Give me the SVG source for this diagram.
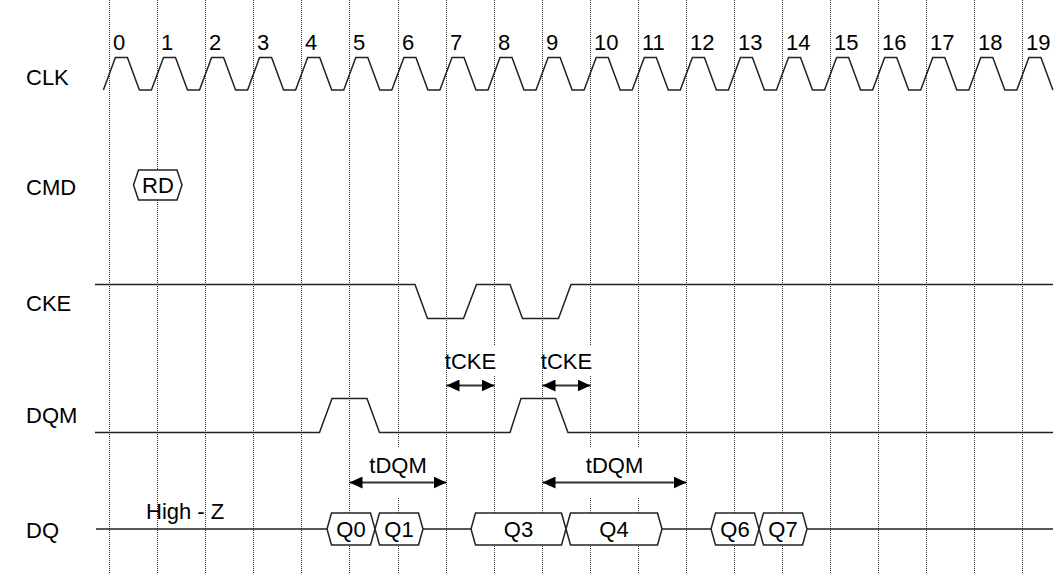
<svg xmlns="http://www.w3.org/2000/svg" width="1056" height="574" viewBox="0 0 1056 574">
<style>
text{font-family:"Liberation Sans",Arial,sans-serif;font-size:22px;fill:#000}
.grid line{stroke:#333;stroke-width:1;stroke-dasharray:1 1}
.wave{fill:none;stroke:#222;stroke-width:1.5;stroke-linejoin:miter}
.hex{fill:#fff;stroke:#222;stroke-width:1.5}
.mid{text-anchor:middle}
.arr{stroke:#333;stroke-width:2;marker-start:url(#ah);marker-end:url(#ah)}
.mask{fill:#fff}
</style>
<defs>
<marker id="ah" markerUnits="userSpaceOnUse" markerWidth="14" markerHeight="12" refX="13" refY="6" orient="auto-start-reverse">
<path d="M0,0 L13,6 L0,12 Z" fill="#000"/>
</marker>
</defs>
<rect width="1056" height="574" fill="#fff"/>
<g class="grid" id="grid">
<line x1="109.5" y1="0" x2="109.5" y2="574"/>
<line x1="157.5" y1="0" x2="157.5" y2="574"/>
<line x1="205.5" y1="0" x2="205.5" y2="574"/>
<line x1="253.5" y1="0" x2="253.5" y2="574"/>
<line x1="301.5" y1="0" x2="301.5" y2="574"/>
<line x1="349.5" y1="0" x2="349.5" y2="574"/>
<line x1="398.5" y1="0" x2="398.5" y2="574"/>
<line x1="446.5" y1="0" x2="446.5" y2="574"/>
<line x1="494.5" y1="0" x2="494.5" y2="574"/>
<line x1="542.5" y1="0" x2="542.5" y2="574"/>
<line x1="590.5" y1="0" x2="590.5" y2="574"/>
<line x1="638.5" y1="0" x2="638.5" y2="574"/>
<line x1="686.5" y1="0" x2="686.5" y2="574"/>
<line x1="734.5" y1="0" x2="734.5" y2="574"/>
<line x1="782.5" y1="0" x2="782.5" y2="574"/>
<line x1="830.5" y1="0" x2="830.5" y2="574"/>
<line x1="878.5" y1="0" x2="878.5" y2="574"/>
<line x1="926.5" y1="0" x2="926.5" y2="574"/>
<line x1="974.5" y1="0" x2="974.5" y2="574"/>
<line x1="1022.5" y1="0" x2="1022.5" y2="574"/>
</g>
<g id="clk">
<text x="26" y="85">CLK</text>
<g id="cycle-numbers">
<text x="113" y="50">0</text>
<text x="161" y="50">1</text>
<text x="209" y="50">2</text>
<text x="257" y="50">3</text>
<text x="305" y="50">4</text>
<text x="353" y="50">5</text>
<text x="402" y="50">6</text>
<text x="450" y="50">7</text>
<text x="498" y="50">8</text>
<text x="546" y="50">9</text>
<text x="594" y="50">10</text>
<text x="642" y="50">11</text>
<text x="690" y="50">12</text>
<text x="738" y="50">13</text>
<text x="786" y="50">14</text>
<text x="834" y="50">15</text>
<text x="882" y="50">16</text>
<text x="930" y="50">17</text>
<text x="978" y="50">18</text>
<text x="1026" y="50">19</text>
</g>
<path class="wave" d="M103.4,90 L115.4,57.5 H127.4 L139.4,90 H151.4 L163.5,57.5 H175.5 L187.5,90 H199.5 L211.6,57.5 H223.6 L235.6,90 H247.6 L259.6,57.5 H271.6 L283.6,90 H295.6 L307.7,57.5 H319.7 L331.7,90 H343.7 L355.8,57.5 H367.8 L379.8,90 H391.8 L403.9,57.5 H415.9 L427.9,90 H439.9 L452,57.5 H464 L476,90 H488 L500,57.5 H512 L524,90 H536 L548.1,57.5 H560.1 L572.1,90 H584.1 L596.2,57.5 H608.2 L620.2,90 H632.2 L644.3,57.5 H656.3 L668.3,90 H680.3 L692.4,57.5 H704.4 L716.4,90 H728.4 L740.4,57.5 H752.4 L764.4,90 H776.4 L788.5,57.5 H800.5 L812.5,90 H824.5 L836.6,57.5 H848.6 L860.6,90 H872.6 L884.7,57.5 H896.7 L908.7,90 H920.7 L932.8,57.5 H944.8 L956.8,90 H968.8 L980.8,57.5 H992.8 L1004.8,90 H1016.8 L1028.9,57.5 H1040.9 L1052.9,90"/>
</g>
<g id="cmd">
<text x="26" y="195">CMD</text>
<g id="cmd-rd">
<path class="hex" d="M133.5,185 L138.5,170 H177 L182,185 L177,200 H138.5 Z"/>
<text class="mid" x="158" y="193">RD</text>
</g>
</g>
<g id="cke">
<text x="26" y="311">CKE</text>
<path class="wave" d="M95,284.5 H415 L427.5,318.5 H463.5 L476.5,284.5 H510 L522.5,318.5 H558.5 L571,284.5 H1053"/>
</g>
<g id="dqm">
<text x="26" y="423">DQM</text>
<path class="wave" d="M95,432.5 H319.5 L332,398.5 H367 L379.5,432.5 H510 L521,398.5 H555.5 L568,432.5 H1053"/>
</g>
<g id="dq">
<text x="26" y="538">DQ</text>
<text x="146" y="519">High - Z</text>
<path class="wave" d="M96,529 H327 M423,529 H471 M662,529 H711 M807,529 H1053"/>
<g id="dq-q0"><path class="hex" d="M327,529 L331.5,513 H370.5 L375,529 L370.5,545 H331.5 Z"/><text class="mid" x="351" y="537">Q0</text></g>
<g id="dq-q1"><path class="hex" d="M375,529 L379.5,513 H418.5 L423,529 L418.5,545 H379.5 Z"/><text class="mid" x="399" y="537">Q1</text></g>
<g id="dq-q3"><path class="hex" d="M471,529 L475.5,513 H561.5 L566,529 L561.5,545 H475.5 Z"/><text class="mid" x="518.5" y="537">Q3</text></g>
<g id="dq-q4"><path class="hex" d="M566,529 L570.5,513 H657.5 L662,529 L657.5,545 H570.5 Z"/><text class="mid" x="614" y="537">Q4</text></g>
<g id="dq-q6"><path class="hex" d="M711,529 L715.5,513 H754.5 L759,529 L754.5,545 H715.5 Z"/><text class="mid" x="735" y="537">Q6</text></g>
<g id="dq-q7"><path class="hex" d="M759,529 L763.5,513 H802.5 L807,529 L802.5,545 H763.5 Z"/><text class="mid" x="783" y="537">Q7</text></g>
</g>
<g id="connectors">
<g id="tcke-1">
<rect class="mask" x="448" y="345" width="50" height="30"/>
<text class="mid" x="470.5" y="369">tCKE</text>
<line class="arr" x1="446.5" y1="385.5" x2="494.5" y2="385.5"/>
</g>
<g id="tcke-2">
<rect class="mask" x="544" y="345" width="50" height="30"/>
<text class="mid" x="566.5" y="369">tCKE</text>
<line class="arr" x1="542.5" y1="385.5" x2="590.5" y2="385.5"/>
</g>
<g id="tdqm-1">
<rect class="mask" x="351" y="447" width="94" height="50"/>
<text class="mid" x="398" y="473">tDQM</text>
<line class="arr" x1="349.5" y1="482.5" x2="446.5" y2="482.5"/>
</g>
<g id="tdqm-2">
<rect class="mask" x="544" y="447" width="141" height="50"/>
<text class="mid" x="614.5" y="473">tDQM</text>
<line class="arr" x1="542.5" y1="482.5" x2="686.5" y2="482.5"/>
</g>
</g>
</svg>
